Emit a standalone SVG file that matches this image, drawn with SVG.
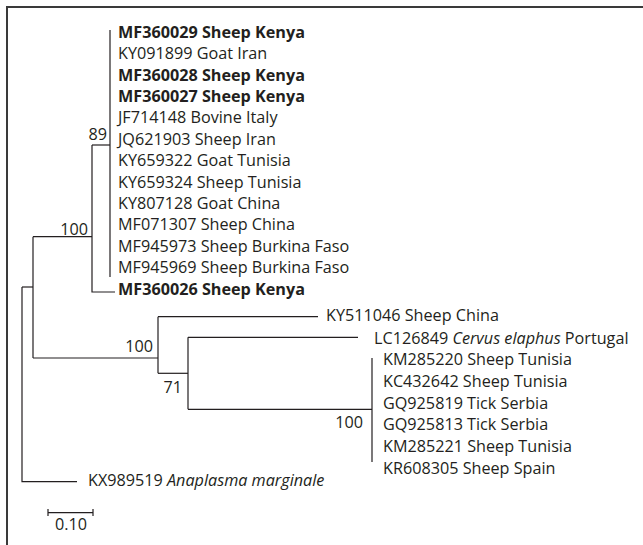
<svg xmlns="http://www.w3.org/2000/svg" width="643" height="545" viewBox="0 0 643 545">
<style>
text{font-family:"Open Sans","Noto Sans","Liberation Sans",sans-serif;font-size:16.2px;fill:#231f20}
.b{font-weight:bold}
.i{font-style:italic}
.s{text-anchor:end}
line,path{stroke:#231f20;stroke-width:1.2;fill:none}
.frame{stroke:#3a3a3a;stroke-width:2}
</style>
<rect width="643" height="545" fill="#fff"/>
<path class="frame" d="M7,545 V7 H643"/>
<g id="connectors">
<path d="M110,30 V277"/>
<path d="M92,145 H110"/>
<path d="M92,145 V292 H115"/>
<path d="M33,236.7 H92"/>
<path d="M33,236.7 V358"/>
<path d="M22,287 H33"/>
<path d="M22,287 V481.7 H77"/>
<path d="M33,358 H158"/>
<path d="M158,316.7 V373.3"/>
<path d="M158,316.7 H318"/>
<path d="M158,373.3 H188"/>
<path d="M188,337.3 V409.3"/>
<path d="M188,337.3 H358"/>
<path d="M188,409.3 H372"/>
<path d="M372,358 V462"/>
<path d="M48,512.7 H93 M48,509 V516 M93,509 V516"/>
</g>
<g id="labels-bootstrap">
<text class="s" x="107" y="140">89</text>
<text class="s" x="88" y="235">100</text>
<text class="s" x="153" y="352">100</text>
<text class="s" x="182" y="393">71</text>
<text class="s" x="363" y="428">100</text>
</g>
<g id="leaves-clade1">
<text class="b" x="118" y="37.7">MF360029 Sheep Kenya</text>
<text x="118" y="59.1">KY091899 Goat Iran</text>
<text class="b" x="118" y="80.5">MF360028 Sheep Kenya</text>
<text class="b" x="118" y="101.9">MF360027 Sheep Kenya</text>
<text x="118" y="123.3">JF714148 Bovine Italy</text>
<text x="118" y="144.7">JQ621903 Sheep Iran</text>
<text x="118" y="166.1">KY659322 Goat Tunisia</text>
<text x="118" y="187.5">KY659324 Sheep Tunisia</text>
<text x="118" y="208.9">KY807128 Goat China</text>
<text x="118" y="230.3">MF071307 Sheep China</text>
<text x="118" y="251.7">MF945973 Sheep Burkina Faso</text>
<text x="118" y="273.1">MF945969 Sheep Burkina Faso</text>
<text class="b" x="118" y="294.5">MF360026 Sheep Kenya</text>
</g>
<g id="leaves-clade2">
<text x="326" y="321.3">KY511046 Sheep China</text>
<text x="374" y="343.6">LC126849 <tspan class="i">Cervus elaphus</tspan> Portugal</text>
<text x="383" y="365.3">KM285220 Sheep Tunisia</text>
<text x="383" y="387">KC432642 Sheep Tunisia</text>
<text x="383" y="408.6">GQ925819 Tick Serbia</text>
<text x="383" y="430.3">GQ925813 Tick Serbia</text>
<text x="383" y="452">KM285221 Sheep Tunisia</text>
<text x="383" y="473.6">KR608305 Sheep Spain</text>
</g>
<g id="outgroup">
<text x="88" y="486">KX989519 <tspan class="i">Anaplasma marginale</tspan></text>
</g>
<g id="scale">
<text x="71" y="530" text-anchor="middle">0.10</text>
</g>
</svg>
